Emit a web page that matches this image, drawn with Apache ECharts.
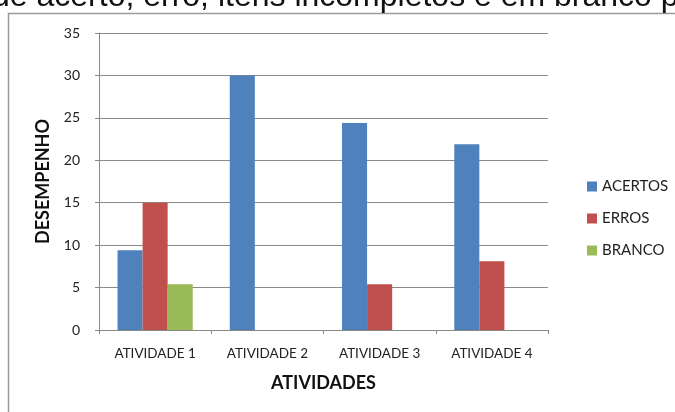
<!DOCTYPE html>
<html>
<head>
<meta charset="utf-8">
<script src="https://cdn.jsdelivr.net/npm/echarts@6/dist/echarts.min.js"></script>
<style>
  html, body { margin: 0; padding: 0; background: #fff; }
  #chart { width: 675px; height: 412px; }
</style>
</head>
<body>
<div id="chart"></div>
<script>
  // data
  var atividades = ['ATIVIDADE 1', 'ATIVIDADE 2', 'ATIVIDADE 3', 'ATIVIDADE 4']
  var acertos = [9.4, 30, 24.4, 21.9]
  var erros = [15, null, 5.4, 8.1]
  var branco = [5.4, null, null, null]
  var yTicks = [0, 5, 10, 15, 20, 25, 30, 35]

  var font = 'Lato, "Open Sans", sans-serif'
  var chart = echarts.init(document.getElementById('chart'))
  chart.setOption({
    animation: false,
    backgroundColor: '#fff',
    graphic: [
      {
        type: 'rect',
        shape: { x: 8.5, y: 13.5, width: 720, height: 420 },
        style: { fill: 'none', stroke: '#9a9a9a', lineWidth: 1.5 },
        z: 0
      },
      {
        type: 'text',
        left: -8,
        top: -19,
        style: {
          text: 'de acerto, erro, itens incompletos e em branco p',
          font: '32px "Liberation Sans", Arial, sans-serif',
          fill: '#111'
        }
      }
    ],
    legend: {
      orient: 'vertical',
      left: 582,
      top: 174,
      itemWidth: 10,
      itemHeight: 10,
      itemGap: 17,
      icon: 'rect',
      textStyle: { fontFamily: font, fontSize: 15, color: '#222' },
      data: ['ACERTOS', 'ERROS', 'BRANCO']
    },
    grid: { left: 99, right: 127, top: 33, bottom: 82, containLabel: false },
    xAxis: {
      type: 'category',
      data: atividades,
      name: 'ATIVIDADES',
      nameLocation: 'middle',
      nameGap: 44,
      nameTextStyle: { fontFamily: font, fontSize: 18, fontWeight: 'bold', color: '#111' },
      axisLine: { lineStyle: { color: '#888' } },
      axisTick: { show: true, length: 4, lineStyle: { color: '#888' } },
      axisLabel: { interval: 0, fontFamily: font, fontSize: 13.5, color: '#222', margin: 17 }
    },
    yAxis: {
      type: 'value',
      min: yTicks[0],
      max: yTicks[yTicks.length - 1],
      interval: 5,
      name: 'DESEMPENHO',
      nameLocation: 'middle',
      nameGap: 47,
      nameTextStyle: { fontFamily: font, fontSize: 18, fontWeight: 'bold', color: '#111' },
      axisLine: { show: true, lineStyle: { color: '#888' } },
      axisTick: { show: true, length: 4, lineStyle: { color: '#888' } },
      axisLabel: { fontFamily: font, fontSize: 14, color: '#222', margin: 19 },
      splitLine: { lineStyle: { color: '#8a8a8a' } }
    },
    series: [
      { name: 'ACERTOS', type: 'bar', data: acertos, itemStyle: { color: '#4F81BD' }, barGap: '0%', barCategoryGap: '33%' },
      { name: 'ERROS', type: 'bar', data: erros, itemStyle: { color: '#C0504D' } },
      { name: 'BRANCO', type: 'bar', data: branco, itemStyle: { color: '#9BBB59' } }
    ]
  })
</script>
</body>
</html>
